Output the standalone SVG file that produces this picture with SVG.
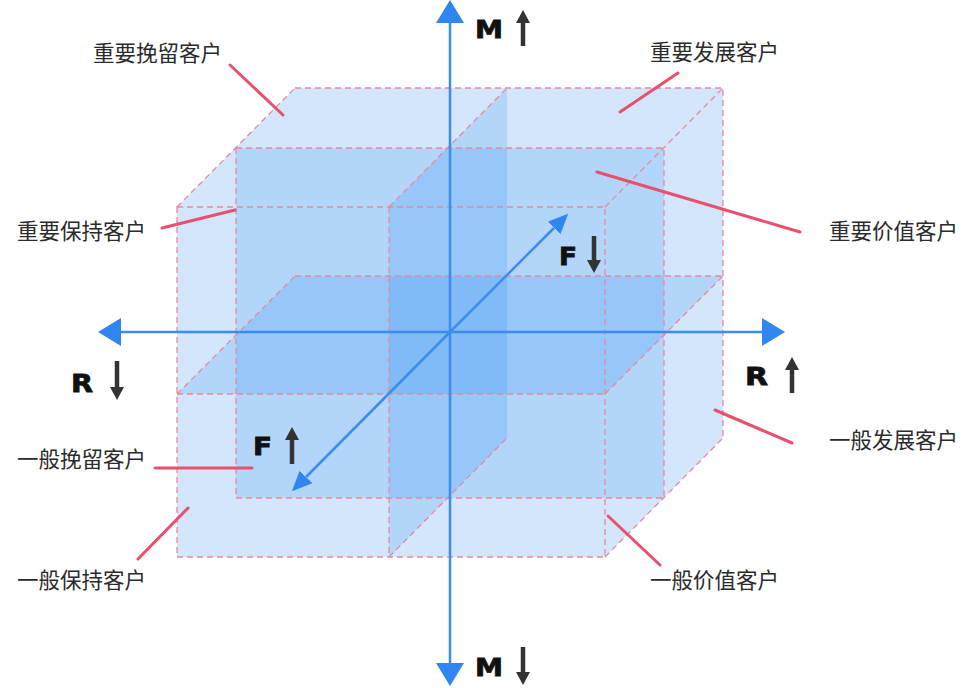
<svg xmlns="http://www.w3.org/2000/svg" width="968" height="688" viewBox="0 0 968 688">
<style>
.lbl{font-family:"Noto Sans CJK SC","Noto Sans",sans-serif;font-size:21.5px;fill:#2b2b2b}
.ax{font-family:"DejaVu Sans","Liberation Sans",sans-serif;font-weight:900;font-size:24px;fill:#111;stroke:#111;stroke-width:0.8}
.layer{fill:rgb(20,130,245);fill-opacity:0.17}
.dash{stroke:#e8899a;stroke-width:1.3;stroke-dasharray:6 4;fill:none}
.lead{stroke:#e8506e;stroke-width:3;stroke-linecap:round}
.axis{stroke:#3a8cf0;stroke-width:2.5}
.darr{stroke:#333;stroke-width:4.5}
</style>
<defs>
<marker id="bh" markerUnits="userSpaceOnUse" markerWidth="24" markerHeight="30" viewBox="0 -15 24 30" refX="0" refY="0" orient="auto"><path d="M0,-14 L23,0 L0,14 Z" fill="#2f86f0"/></marker>
<marker id="bs" markerUnits="userSpaceOnUse" markerWidth="22" markerHeight="20" viewBox="0 -10 22 20" refX="0" refY="0" orient="auto"><path d="M0,-9 L20,0 L0,9 Z" fill="#2f86f0"/></marker>
<marker id="dh" markerUnits="userSpaceOnUse" markerWidth="14" markerHeight="16" viewBox="0 -8 14 16" refX="0" refY="0" orient="auto"><path d="M0,-7 L13,0 L0,7 Z" fill="#333"/></marker>
</defs>
<g id="cube">
<polygon points="177,207 295,88 723,88 723,438 605,557 177,557" fill="#d4e6fb"/>
<rect class="layer" x="236" y="148" width="428" height="350"/>
<polygon class="layer" points="177,394 295,276 723,276 605,394"/>
<polygon class="layer" points="389,207 507,88 507,438 389,557"/>
<rect class="dash" x="177" y="207" width="428" height="350"/>
<rect class="dash" x="236" y="148" width="428" height="350"/>
<path class="dash" d="M295,88 H723 V438 M177,207 L295,88 M605,207 L723,88 M605,557 L723,438 M389,207 V557 M177,394 H605 M389,207 L507,88 M389,557 L507,438 M295,276 H723 M177,394 L295,276 M605,394 L723,276"/>
</g>
<g id="connectors">
<line class="axis" x1="450" y1="332" x2="450" y2="23" marker-end="url(#bh)"/>
<line class="axis" x1="450" y1="332" x2="450" y2="663" marker-end="url(#bh)"/>
<line class="axis" x1="450" y1="332" x2="121" y2="332" marker-end="url(#bh)"/>
<line class="axis" x1="450" y1="332" x2="762" y2="332" marker-end="url(#bh)"/>
<line class="axis" x1="450" y1="332" x2="554" y2="228" marker-end="url(#bs)"/>
<line class="axis" x1="450" y1="332" x2="306" y2="477" marker-end="url(#bs)"/>
<line class="lead" x1="230" y1="65" x2="283" y2="115"/>
<line class="lead" x1="678" y1="73" x2="620" y2="112"/>
<line class="lead" x1="162" y1="228" x2="235" y2="210"/>
<line class="lead" x1="597" y1="172" x2="800" y2="232"/>
<line class="lead" x1="155" y1="468" x2="252" y2="468"/>
<line class="lead" x1="138" y1="559" x2="188" y2="508"/>
<line class="lead" x1="715" y1="410" x2="792" y2="443"/>
<line class="lead" x1="608" y1="516" x2="660" y2="565"/>
</g>
<g id="axis-labels">
<g id="m-up"><text class="ax" x="475" y="38" textLength="28" lengthAdjust="spacingAndGlyphs">M</text><line class="darr" x1="523" y1="46" x2="523" y2="23" marker-end="url(#dh)"/></g>
<g id="m-down"><text class="ax" x="475" y="676" textLength="28" lengthAdjust="spacingAndGlyphs">M</text><line class="darr" x1="523" y1="647" x2="523" y2="672" marker-end="url(#dh)"/></g>
<g id="r-down"><text class="ax" x="71" y="392" textLength="22" lengthAdjust="spacingAndGlyphs">R</text><line class="darr" x1="117" y1="361" x2="117" y2="387" marker-end="url(#dh)"/></g>
<g id="r-up"><text class="ax" x="745" y="385" textLength="23" lengthAdjust="spacingAndGlyphs">R</text><line class="darr" x1="792" y1="393" x2="792" y2="370" marker-end="url(#dh)"/></g>
<g id="f-down"><text class="ax" x="559" y="265" textLength="18" lengthAdjust="spacingAndGlyphs">F</text><line class="darr" x1="594" y1="236" x2="594" y2="260" marker-end="url(#dh)"/></g>
<g id="f-up"><text class="ax" x="253" y="455" textLength="19" lengthAdjust="spacingAndGlyphs">F</text><line class="darr" x1="292" y1="464" x2="292" y2="440" marker-end="url(#dh)"/></g>
</g>
<g id="n1"><text class="lbl" x="93" y="61">重要挽留客户</text></g>
<g id="n2"><text class="lbl" x="650" y="60">重要发展客户</text></g>
<g id="n3"><text class="lbl" x="17" y="239">重要保持客户</text></g>
<g id="n4"><text class="lbl" x="829" y="239">重要价值客户</text></g>
<g id="n5"><text class="lbl" x="17" y="467">一般挽留客户</text></g>
<g id="n6"><text class="lbl" x="829" y="448">一般发展客户</text></g>
<g id="n7"><text class="lbl" x="17" y="588">一般保持客户</text></g>
<g id="n8"><text class="lbl" x="650" y="588">一般价值客户</text></g>
</svg>
